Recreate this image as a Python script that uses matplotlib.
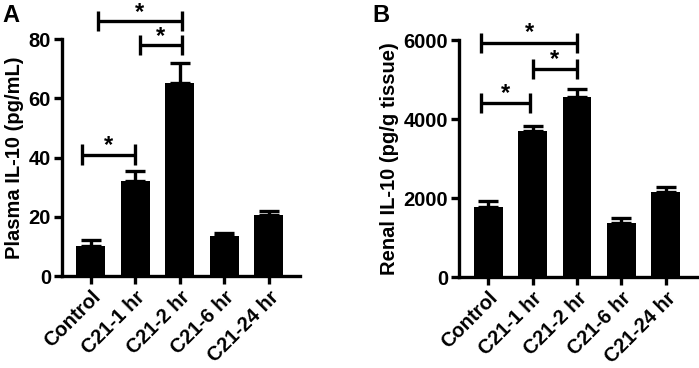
import numpy as np
import matplotlib
matplotlib.use("Agg")
import matplotlib.pyplot as plt

groups = ["Control", "C21-1 hr", "C21-2 hr", "C21-6 hr", "C21-24 hr"]

plasma_mean = [10.2, 32.0, 65.0, 13.5, 20.7]
plasma_err = [1.8, 3.5, 7.0, 1.0, 1.3]

renal_mean = [1780, 3710, 4570, 1370, 2150]
renal_err = [140, 120, 200, 130, 140]

# (left x, right x, bracket y) in data units
plasma_sig = [(-0.2, 1.0, 41), (1.1, 2.05, 78), (0.15, 2.05, 86)]
renal_sig = [(-0.15, 0.95, 4400), (1.0, 2.0, 5270), (-0.15, 2.0, 5930)]

plt.rcParams['font.family'] = ['Liberation Sans', 'DejaVu Sans']
plt.rcParams['font.weight'] = 'bold'

fig = plt.figure(figsize=(6.99, 3.68), dpi=100)
axA = fig.add_axes([0.0887, 0.25, 0.3405, 0.644])
axB = fig.add_axes([0.657, 0.247, 0.340, 0.644])

FS = 14.5


def draw(ax, means, errs, sig, ymax, step, ylabel, tick_h, star_off):
    x = np.arange(len(groups))
    ax.bar(x, means, width=0.65, color='black', zorder=2)
    ax.errorbar(x, means, yerr=[np.zeros(len(errs)), errs], fmt='none',
                ecolor='black', elinewidth=2.4, capsize=7, capthick=2.4,
                zorder=1)
    ax.set_ylim(0, ymax)
    ax.set_yticks(np.arange(0, ymax + 1, step))
    ax.set_xlim(-0.65, 4.7)
    ax.set_xticks(x)
    ax.set_xticklabels(groups, rotation=45, ha='right', rotation_mode='anchor',
                       fontsize=FS, fontweight='bold')
    for lab in ax.get_yticklabels():
        lab.set_fontsize(FS)
        lab.set_fontweight('bold')
    ax.set_ylabel(ylabel, fontsize=FS, fontweight='bold', labelpad=3)
    for s in ['top', 'right']:
        ax.spines[s].set_visible(False)
    for s in ['left', 'bottom']:
        ax.spines[s].set_linewidth(2.4)
    ax.tick_params(width=2.4, length=6, pad=2)
    for x0, x1, y in sig:
        ax.plot([x0, x1], [y, y], color='black', lw=2.4, clip_on=False,
                solid_capstyle='butt')
        for xe in (x0, x1):
            ax.plot([xe, xe], [y - tick_h, y + tick_h], color='black', lw=2.4,
                    clip_on=False, solid_capstyle='butt')
        ax.text((x0 + x1) / 2, y + star_off, '*', ha='center', va='center',
                fontsize=17, fontweight='bold', clip_on=False)


draw(axA, plasma_mean, plasma_err, plasma_sig, 80, 20,
     "Plasma IL-10 (pg/mL)", 3.4, 3.0)
draw(axB, renal_mean, renal_err, renal_sig, 6000, 2000,
     "Renal IL-10 (pg/g tissue)", 250, 250)

fig.text(0.003, 0.99, "A", fontsize=17, fontweight='bold', va='top')
fig.text(0.533, 0.99, "B", fontsize=17, fontweight='bold', va='top')

fig.savefig("out.png", dpi=100)
